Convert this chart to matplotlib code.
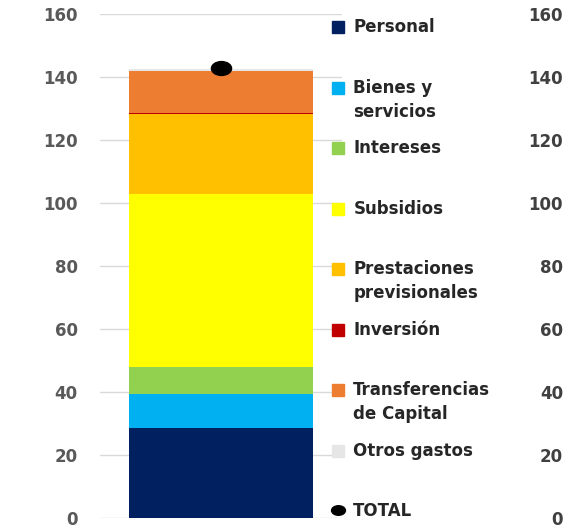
import numpy as np
import matplotlib
matplotlib.use("Agg")
import matplotlib.pyplot as plt
from matplotlib.lines import Line2D
from matplotlib.path import Path
from matplotlib.transforms import Affine2D
from matplotlib.legend_handler import HandlerLine2D

# ---------------- data ----------------
categories = ["Personal", "Bienes y\nservicios", "Intereses", "Subsidios",
              "Prestaciones\nprevisionales", "Inversión",
              "Transferencias\nde Capital", "Otros gastos"]
values = [28.5, 10.8, 8.6, 54.8, 25.6, 0.4, 13.3, 0.6]
total_label = "TOTAL"
total_value = 143.0
colors = ["#002060", "#00B0F0", "#92D050", "#FFFF00", "#FFC000",
          "#C00000", "#ED7D31", "#E7E6E6"]
yticks = [0, 20, 40, 60, 80, 100, 120, 140, 160]

# ---------------- figure ----------------
plt.rcParams["font.family"] = ["DejaVu Sans"]
plt.rcParams["font.weight"] = "bold"
W, H = 574, 529
fig = plt.figure(figsize=(W / 100, H / 100), dpi=100)

left_px, right_px, top_px, bottom_px = 100, 342, 14, 518
ax = fig.add_axes([left_px / W, (H - bottom_px) / H,
                   (right_px - left_px) / W, (bottom_px - top_px) / H])

bottom = 0.0
for cat, val, col in zip(categories, values, colors):
    ax.bar([0], [val], bottom=bottom, width=0.76, color=col, linewidth=0,
           zorder=2)
    bottom += val

ellipse = Path(Affine2D().scale(1.45, 1.0).transform(Path.unit_circle().vertices),
               Path.unit_circle().codes)
ax.plot([0], [total_value], ls="none", marker=ellipse, markersize=14.5,
        color="black", zorder=3)

ax.set_xlim(-0.5, 0.5)
ax.set_ylim(0, 160)
ax.set_xticks([])
ax.set_yticks(yticks)
ax.grid(axis="y", color="#D9D9D9", linewidth=1.0, zorder=0)
ax.set_axisbelow(True)
for s in ax.spines.values():
    s.set_visible(False)
ax.tick_params(axis="y", length=0, pad=16, labelsize=12, labelcolor="#595959")

# right-hand axis labels
rlab_px = 563
ax2 = fig.add_axes([left_px / W, (H - bottom_px) / H,
                    (rlab_px - left_px) / W, (bottom_px - top_px) / H],
                   sharey=ax)
ax2.patch.set_visible(False)
for s in ax2.spines.values():
    s.set_visible(False)
ax2.set_xticks([])
ax2.yaxis.tick_right()
ax2.tick_params(axis="y", length=0, pad=0, labelsize=12, labelcolor="#404040",
                labelleft=False, labelright=True)
ax2.set_yticks(yticks)
for t in ax2.get_yticklabels():
    t.set_horizontalalignment("right")


# ---------------- legend ----------------
class FirstLineHandler(HandlerLine2D):
    def __init__(self, dy, **kw):
        super().__init__(**kw)
        self.dy = dy

    def create_artists(self, legend, orig_handle, xdescent, ydescent, width,
                       height, fontsize, trans):
        arts = super().create_artists(legend, orig_handle, xdescent, ydescent,
                                      width, height, fontsize, trans)
        for a in arts:
            a.set_ydata(np.asarray(a.get_ydata(), float) + self.dy)
        return arts


handles = [Line2D([], [], ls="none", marker="s", markersize=9, color=c)
           for c in colors]
total_handle = Line2D([], [], ls="none", marker=ellipse, markersize=10,
                      color="black")
handles.append(total_handle)
labels = [c if "\n" in c else c + "\n" for c in categories] + [total_label]

leg = fig.legend(handles, labels, loc="upper left",
                 bbox_to_anchor=(330 / W, 1 - 18 / H),
                 frameon=False, fontsize=12, numpoints=1,
                 handlelength=1.0, handletextpad=0.4, labelspacing=1.11,
                 borderpad=0, borderaxespad=0,
                 handler_map={Line2D: FirstLineHandler(9.3),
                              total_handle: HandlerLine2D()})
for t in leg.get_texts():
    t.set_linespacing(1.43)
    t.set_color("#262626")

fig.savefig("out.png", dpi=100)
